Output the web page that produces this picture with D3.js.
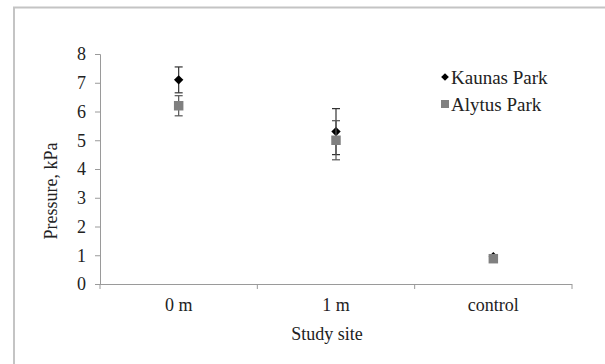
<!DOCTYPE html>
<html>
<head>
<meta charset="utf-8">
<script src="https://cdn.jsdelivr.net/npm/d3@7"></script>
<style>
	body { margin: 0; background: #fff; }
	svg text { font-family: "Liberation Serif", "Times New Roman", "DejaVu Serif", serif; }
</style>
</head>
<body>
<div id="chart"></div>
<script>
// data
const sites = ['0 m', '1 m', 'control'];
const yTicks = [0, 1, 2, 3, 4, 5, 6, 7, 8];
const kaunasMean = [7.1, 5.3, 0.95];
const kaunasErr = [0.45, 0.8, 0.05];
const alytusMean = [6.2, 5.0, 0.88];
const alytusErr = [0.35, 0.68, 0.05];
const seriesNames = ['Kaunas Park', 'Alytus Park'];

const W = 605, H = 364;
const margin = {t:54, r:33, b:80, l:100};
const w = W - margin.l - margin.r;
const h = H - margin.t - margin.b;
const FONT = '"Liberation Serif", "Times New Roman", "DejaVu Serif", serif';

const svg = d3.select('#chart')
	.append('svg')
	.attr('width', W).attr('height', H)
	.attr('font-family', FONT);

//outer frame (only top and left edges show)
svg.append('path')
	.attr('d', `M14,${H} L14,7.5 L${W},7.5`)
	.style('fill', 'none')
	.style('stroke', '#c4c4c4')
	.style('stroke-width', 2);

const plot = svg.append('g')
	.attr('transform', `translate(${margin.l}, ${margin.t})`);

const scaleX = d3.scaleBand().domain(sites).range([0, w]);
const scaleY = d3.scaleLinear().domain([0, 8]).range([h, 0]);

//axes
const axisY = d3.axisLeft(scaleY).tickValues(yTicks).tickSize(5).tickPadding(9);
const gy = plot.append('g').attr('class', 'axis axis-y').call(axisY);
gy.select('.domain').attr('d', `M-5,0.5H0.5V${h}`);

const axisX = d3.axisBottom(scaleX).tickSize(0).tickPadding(14);
const gx = plot.append('g')
	.attr('class', 'axis axis-x')
	.attr('transform', `translate(0, ${h})`)
	.call(axisX);
gx.select('.domain').attr('d', `M0,0.5H${w}`);

//tick marks between categories
gx.selectAll('.sep')
	.data([0, 1, 2, 3])
	.enter()
	.append('line')
	.attr('class', 'sep')
	.attr('x1', d => d * scaleX.step())
	.attr('x2', d => d * scaleX.step())
	.attr('y1', 0)
	.attr('y2', 5);

svg.selectAll('.axis')
	.attr('font-family', FONT)
	.attr('font-size', 18);
svg.selectAll('.axis path, .axis line, .sep')
	.style('stroke', '#9a9a9a')
	.style('stroke-width', 1);
svg.selectAll('.axis text')
	.style('fill', '#222');

//axis titles
svg.append('text')
	.attr('x', 327).attr('y', 340)
	.attr('text-anchor', 'middle')
	.attr('font-size', 18)
	.style('fill', '#222')
	.text('Study site');

svg.append('text')
	.attr('transform', 'translate(57, 191) rotate(-90)')
	.attr('text-anchor', 'middle')
	.attr('font-size', 18)
	.style('fill', '#222')
	.text('Pressure, kPa');

//error bars and markers
function cx(i){ return scaleX(sites[i]) + scaleX.bandwidth() / 2; }

function drawSeries(means, errs, color, barColor, symbol, rot){
	const g = plot.append('g');
	const bars = g.selectAll('.err')
		.data(means)
		.enter()
		.append('g')
		.attr('class', 'err')
		.style('stroke', barColor)
		.style('stroke-width', 1.2);
	bars.append('line')
		.attr('x1', (d, i) => cx(i)).attr('x2', (d, i) => cx(i))
		.attr('y1', (d, i) => scaleY(d + errs[i]))
		.attr('y2', (d, i) => scaleY(d - errs[i]));
	[1, -1].forEach(function(s){
		bars.append('line')
			.attr('x1', (d, i) => cx(i) - 4).attr('x2', (d, i) => cx(i) + 4)
			.attr('y1', (d, i) => scaleY(d + s * errs[i]))
			.attr('y2', (d, i) => scaleY(d + s * errs[i]));
	});
	g.selectAll('.pt')
		.data(means)
		.enter()
		.append('path')
		.attr('class', 'pt')
		.attr('d', symbol)
		.attr('transform', (d, i) => `translate(${cx(i)}, ${scaleY(d)})` + (rot ? ' rotate(45)' : ''))
		.style('fill', color);
}

drawSeries(kaunasMean, kaunasErr, '#000', '#333', d3.symbol().type(d3.symbolSquare).size(44), true);
drawSeries(alytusMean, alytusErr, '#808080', '#555', d3.symbol().type(d3.symbolSquare).size(90), false);

//legend
const legend = svg.append('g');
const legendY = [77, 104];
legend.append('path')
	.attr('d', d3.symbol().type(d3.symbolSquare).size(30)())
	.attr('transform', `translate(445, ${legendY[0]}) rotate(45)`)
	.style('fill', '#000');
legend.append('path')
	.attr('d', d3.symbol().type(d3.symbolSquare).size(64)())
	.attr('transform', `translate(445, ${legendY[1]})`)
	.style('fill', '#808080');
legend.selectAll('text')
	.data(seriesNames)
	.enter()
	.append('text')
	.attr('x', 451)
	.attr('y', (d, i) => legendY[i])
	.attr('dy', '0.35em')
	.attr('font-size', 19)
	.style('fill', '#222')
	.text(d => d);
</script>
</body>
</html>
